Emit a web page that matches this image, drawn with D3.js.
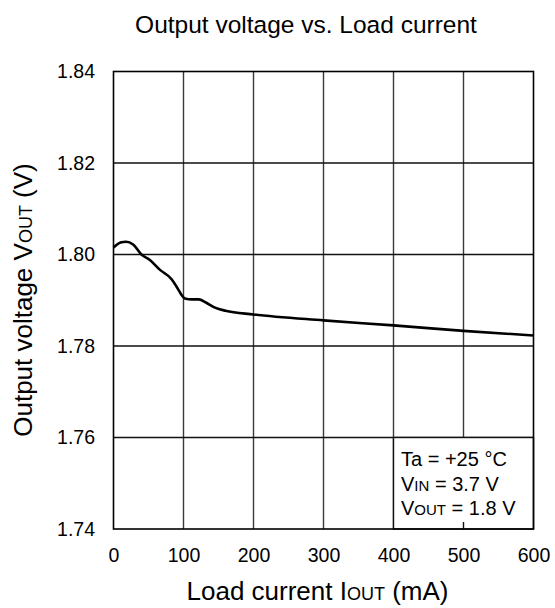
<!DOCTYPE html>
<html><head><meta charset="utf-8">
<script src="https://cdn.jsdelivr.net/npm/d3@7"></script>
<style>body{margin:0;background:#fff}svg{display:block}text{font-family:"Liberation Sans",Arial,sans-serif;fill:#000}</style>
</head><body><svg id="c" width="555" height="608"></svg>
<script>
const loadCurrent = [0, 10, 18, 28, 40, 52, 66, 83, 92, 97, 102, 112, 122, 132, 145, 160, 200, 300, 400, 500, 600];
const outputVoltage = [1.8015, 1.8026, 1.8028, 1.8022, 1.8000, 1.7988, 1.7967, 1.7946, 1.7925, 1.7912, 1.7904, 1.7902, 1.7902, 1.7895, 1.7884, 1.7877, 1.7869, 1.7856, 1.7845, 1.7833, 1.7823];
const xTicks = [0, 100, 200, 300, 400, 500, 600];
const yTicks = [1.74, 1.76, 1.78, 1.80, 1.82, 1.84];

const svg = d3.select("#c");
const L = 113.5, R = 533.5, T = 71.5, B = 529;
const x = d3.scaleLinear().domain([0, 600]).range([L, R]);
const y = d3.scaleLinear().domain([1.74, 1.84]).range([B, T]);

// grid
const g = svg.append("g");
g.selectAll(".vx").data(xTicks.slice(1, -1)).enter().append("line")
  .attr("x1", d => x(d)).attr("x2", d => x(d)).attr("y1", T).attr("y2", B)
  .attr("stroke", "#3a3a3a").attr("stroke-width", 1.4);
g.selectAll(".hy").data(yTicks.slice(1, -1)).enter().append("line")
  .attr("y1", d => y(d)).attr("y2", d => y(d)).attr("x1", L).attr("x2", R)
  .attr("stroke", "#111").attr("stroke-width", 1.4);

// curve
const line = d3.line().x((d, i) => x(loadCurrent[i])).y(d => y(d)).curve(d3.curveMonotoneX);
svg.append("path").datum(outputVoltage).attr("d", line)
  .attr("fill", "none").attr("stroke", "#000").attr("stroke-width", 2.6);

// condition box
svg.append("rect").attr("x", x(400)).attr("y", y(1.76)).attr("width", x(600) - x(400)).attr("height", y(1.74) - y(1.76))
  .attr("fill", "#fff").attr("stroke", "#111").attr("stroke-width", 1.4);
svg.append("line").attr("x1", x(500)).attr("x2", x(500)).attr("y1", B).attr("y2", B - 7).attr("stroke", "#111").attr("stroke-width", 1.4);

// frame
svg.append("rect").attr("x", L).attr("y", T).attr("width", R - L).attr("height", B - T)
  .attr("fill", "none").attr("stroke", "#000").attr("stroke-width", 1.6);

// axes labels via d3 axes
const xAxis = svg.append("g").attr("transform", `translate(0,${B})`)
  .call(d3.axisBottom(x).tickValues(xTicks).tickSize(0).tickPadding(19).tickFormat(d3.format("d")));
xAxis.select(".domain").remove();
xAxis.selectAll("text").attr("font-size", 19.5).attr("font-family", "Liberation Sans, Arial, sans-serif").attr("fill", "#000");
const yAxis = svg.append("g").attr("transform", `translate(${L},0)`)
  .call(d3.axisLeft(y).tickValues(yTicks).tickSize(0).tickPadding(18.5).tickFormat(d3.format(".2f")));
yAxis.select(".domain").remove();
yAxis.selectAll("text").attr("font-size", 19.5).attr("font-family", "Liberation Sans, Arial, sans-serif").attr("fill", "#000");

// title
svg.append("text").attr("x", 306).attr("y", 33).attr("text-anchor", "middle").attr("font-size", 24.5)
  .text("Output voltage vs. Load current");

// x title
const xt = svg.append("text").attr("x", 317.5).attr("y", 600).attr("text-anchor", "middle").attr("font-size", 26);
xt.append("tspan").text("Load current I");
xt.append("tspan").attr("font-size", 18).text("OUT");
xt.append("tspan").text(" (mA)");

// y title
const yt = svg.append("text").attr("transform", "translate(32,300) rotate(-90)").attr("text-anchor", "middle").attr("font-size", 26);
yt.append("tspan").text("Output voltage V");
yt.append("tspan").attr("font-size", 18).text("OUT");
yt.append("tspan").text(" (V)");

// conditions
const cond = [["Ta = +25 °C", "", ""], ["V", "IN", " = 3.7 V"], ["V", "OUT", " = 1.8 V"]];
cond.forEach((c, i) => {
  const t = svg.append("text").attr("x", 401).attr("y", 466 + i * 24.5).attr("font-size", 20);
  t.append("tspan").text(c[0]);
  if (c[1]) t.append("tspan").attr("font-size", 15).text(c[1]);
  if (c[2]) t.append("tspan").text(c[2]);
});
</script></body></html>
